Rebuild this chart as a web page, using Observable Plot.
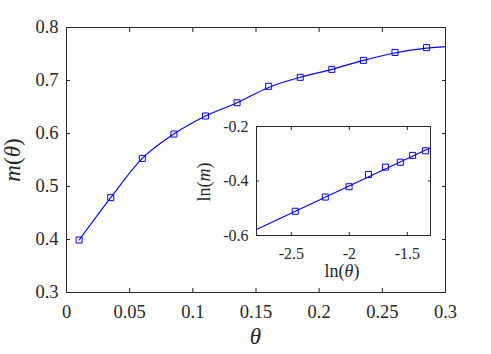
<!DOCTYPE html>
<html>
<head>
<meta charset="utf-8">
<script src="https://cdn.jsdelivr.net/npm/d3@7"></script>
<script src="https://cdn.jsdelivr.net/npm/@observablehq/plot@0.6"></script>
<style>
  html, body { margin: 0; padding: 0; background: white; }
  #wrap { position: relative; width: 491px; height: 354px; overflow: hidden; background: white; }
  #wrap svg { position: absolute; }
</style>
</head>
<body>
<div id="wrap"></div>
<script>
// ---- Main data ----
const theta = [0.01, 0.035, 0.06, 0.085, 0.11, 0.135, 0.16, 0.185, 0.21, 0.235, 0.26, 0.285];
const mVals = [0.399, 0.479, 0.553, 0.599, 0.633, 0.658, 0.689, 0.706, 0.721, 0.738, 0.753, 0.762];
// fitted curve (through points and to the right edge)
const curveTheta = [0.01, 0.035, 0.06, 0.085, 0.11, 0.135, 0.16, 0.185, 0.21, 0.235, 0.26, 0.285, 0.3];
const curveM = [0.399, 0.479, 0.553, 0.599, 0.633, 0.658, 0.687, 0.706, 0.721, 0.738, 0.752, 0.761, 0.764];
const xTicks = [0, 0.05, 0.1, 0.15, 0.2, 0.25, 0.3];
const yTicks = [0.3, 0.4, 0.5, 0.6, 0.7, 0.8];

// ---- Inset data ----
const lnTheta = [-2.466, -2.207, -2.002, -1.835, -1.688, -1.560, -1.454, -1.344];
const lnM = [-0.511, -0.459, -0.421, -0.376, -0.349, -0.331, -0.306, -0.289];
const fitLnTheta = [-2.8, -1.3];
const fitLnM = [-0.578, -0.278];
const insetXTicks = [-2.5, -2, -1.5];
const insetYTicks = [-0.6, -0.4, -0.2];

const ink = "#262626";
const blue = "#0000ff";
const fmt = d => String(+d.toFixed(3));
const font = "'Liberation Serif', 'Times New Roman', serif";

const points = theta.map((t, i) => ({x: t, y: mVals[i]}));
const curve = curveTheta.map((t, i) => ({x: t, y: curveM[i]}));
const insetPts = lnTheta.map((t, i) => ({x: t, y: lnM[i]}));
const insetFit = fitLnTheta.map((t, i) => ({x: t, y: fitLnM[i]}));

function frameAxes(xt, yt, len, tf, padX, padY) {
  return [
    Plot.axisX(xt, {anchor: "bottom", tickSize: len, dy: -len, tickFormat: () => "", label: null, stroke: ink}),
    Plot.axisX(xt, {anchor: "top", tickSize: len, dy: len, tickFormat: () => "", label: null, stroke: ink}),
    Plot.axisY(yt, {anchor: "left", tickSize: len, dx: len, tickFormat: () => "", label: null, stroke: ink}),
    Plot.axisY(yt, {anchor: "right", tickSize: len, dx: -len, tickFormat: () => "", label: null, stroke: ink}),
    Plot.axisX(xt, {anchor: "bottom", tickSize: 0, tickPadding: padX, tickFormat: tf, label: null, fill: ink}),
    Plot.axisY(yt, {anchor: "left", tickSize: 0, tickPadding: padY, tickFormat: tf, label: null, fill: ink}),
    Plot.frame({stroke: ink, strokeWidth: 1})
  ];
}

function setFont(svg, size) {
  svg.setAttribute("font-family", font);
  svg.setAttribute("font-size", size);
  svg.style.fontFamily = font;
  svg.style.fontSize = size + "px";
  d3.select(svg).selectAll("text")
    .style("font-family", font)
    .style("font-size", size + "px")
    .style("font-variant", "normal");
}

const main = Plot.plot({
  width: 491, height: 354,
  marginLeft: 66, marginRight: 46, marginTop: 27, marginBottom: 62,
  style: {background: "transparent", overflow: "visible"},
  x: {domain: [0, 0.3]},
  y: {domain: [0.3, 0.8]},
  marks: [
    Plot.line(curve, {x: "x", y: "y", stroke: blue, strokeWidth: 1.1, curve: "monotone-x"}),
    Plot.dot(points, {x: "x", y: "y", symbol: "square", r: 3.4, stroke: blue, fill: "none", strokeWidth: 1}),
    ...frameAxes(xTicks, yTicks, 4, fmt, 12, 8)
  ]
});
setFont(main, 18.5);
main.style.left = "0px"; main.style.top = "0px";
document.getElementById("wrap").appendChild(main);

// main axis labels (real text with italic parts)
{
  const s = d3.select(main);
  const xl = s.append("text").attr("x", 255.5).attr("y", 344).attr("text-anchor", "middle")
    .style("font-family", font).style("font-size", "23px").attr("fill", ink);
  xl.append("tspan").attr("font-style", "italic").text("θ");
  const yl = s.append("text").attr("transform", "translate(20,160) rotate(-90)").attr("text-anchor", "middle")
    .style("font-family", font).style("font-size", "23px").attr("fill", ink);
  yl.append("tspan").attr("font-style", "italic").text("m");
  yl.append("tspan").text("(");
  yl.append("tspan").attr("font-style", "italic").text("θ");
  yl.append("tspan").text(")");
}

const inset = Plot.plot({
  width: 244, height: 169,
  marginLeft: 60, marginRight: 10, marginTop: 10, marginBottom: 50,
  style: {background: "transparent", overflow: "visible"},
  x: {domain: [-2.8, -1.3]},
  y: {domain: [-0.6, -0.2]},
  marks: [
    Plot.line(insetFit, {x: "x", y: "y", stroke: blue, strokeWidth: 1.1}),
    Plot.dot(insetPts, {x: "x", y: "y", symbol: "square", r: 3.4, stroke: blue, fill: "none", strokeWidth: 1}),
    ...frameAxes(insetXTicks, insetYTicks, 3, fmt, 12, 8)
  ]
});
setFont(inset, 16);
inset.style.left = "196px"; inset.style.top = "116px";
document.getElementById("wrap").appendChild(inset);

{
  const s = d3.select(inset);
  const xl = s.append("text").attr("x", 60 + 86).attr("y", 161).attr("text-anchor", "middle")
    .style("font-family", font).style("font-size", "18px").attr("fill", ink);
  xl.append("tspan").text("ln(");
  xl.append("tspan").attr("font-style", "italic").text("θ");
  xl.append("tspan").text(")");
  const yl = s.append("text").attr("transform", "translate(14,66) rotate(-90)").attr("text-anchor", "middle")
    .style("font-family", font).style("font-size", "18px").attr("fill", ink);
  yl.append("tspan").text("ln(");
  yl.append("tspan").attr("font-style", "italic").text("m");
  yl.append("tspan").text(")");
}
</script>
</body>
</html>
